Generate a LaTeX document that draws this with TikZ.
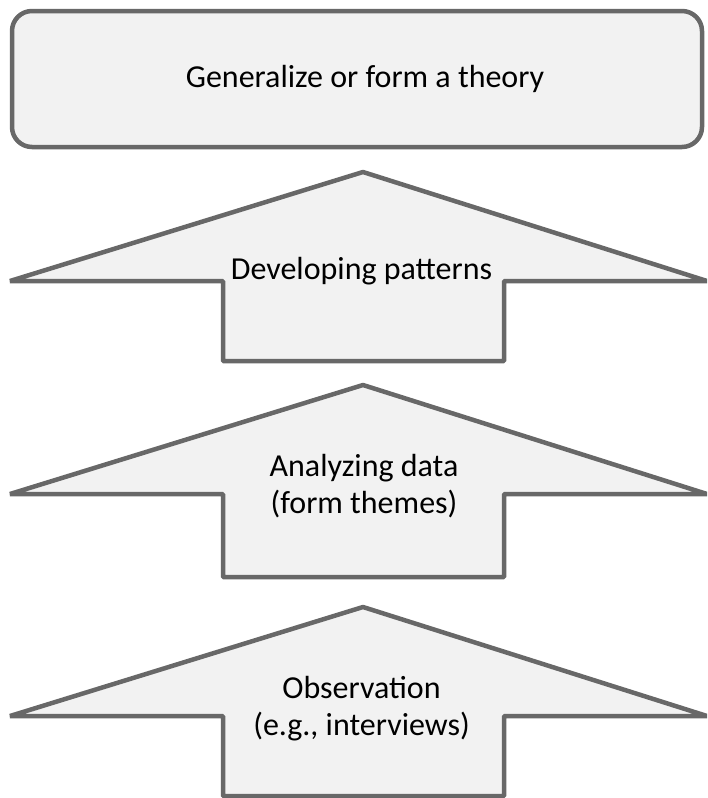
\documentclass[tikz,border=0pt]{standalone}
\usepackage{fontspec}
\setmainfont{Carlito}
\definecolor{shapefill}{HTML}{F2F2F2}
\definecolor{shapeline}{HTML}{686868}
\tikzset{
  shapestyle/.style={fill=shapefill, draw=shapeline, line width=4.5pt, line join=bevel},
  lbl/.style={font=\fontsize{32}{37}\selectfont, text=black, align=center, anchor=base, inner sep=0pt}
}
\begin{document}
\begin{tikzpicture}[x=1pt,y=-1pt]
\useasboundingbox (0,0) rectangle (707,798);
\begin{scope}
\clip (0,0) rectangle (707,798);
% top rounded box
\draw[shapestyle, line join=round, rounded corners=20pt] (12,11) rectangle (702,147);
% up arrows
\foreach \t/\w/\b in {172/281/361, 385/494/577, 607/716/796}{
  \draw[shapestyle] (363,\t) -- (707,\w) -- (504,\w) -- (504,\b) -- (223,\b) -- (223,\w) -- (10,\w) -- cycle;
}
\end{scope}
\node[lbl] (theory) at (365,87) {Generalize or form a theory};
\node[lbl] (patterns) at (361.5,279) {Developing patterns};
\node[lbl] (analyzing) at (364,513) {Analyzing data\\(form themes)};
\node[lbl] (observation) at (361.5,735) {Observation\\(e.g., interviews)};
\end{tikzpicture}
\end{document}
